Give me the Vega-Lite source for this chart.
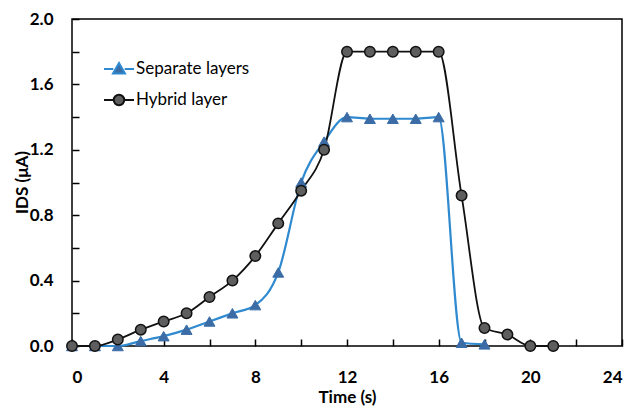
{
  "$schema": "https://vega.github.io/schema/vega-lite/v6.json",
  "width": 550,
  "height": 327,
  "autosize": "none",
  "padding": {"left": 72, "top": 19, "right": 11, "bottom": 65},
  "background": "white",
  "config": {
    "view": {"stroke": "black", "strokeWidth": 1.5},
    "font": "Lato",
    "axis": {"grid": false, "ticks": true, "domain": false, "offset": -7, "tickSize": 7, "tickColor": "black", "zindex": 1, "labelColor": "black", "titleColor": "black", "labelFont": "Lato", "titleFont": "Lato", "labelFontWeight": "bold", "titleFontWeight": "bold", "labelFontSize": 17, "titleFontSize": 17, "tickWidth": 1.5},
    "legend": {"orient": "none", "legendX": 31, "legendY": 34, "symbolSize": 900, "symbolStrokeWidth": 2, "labelFont": "Lato", "labelFontSize": 17, "labelColor": "black", "rowPadding": 6, "labelOffset": 1, "padding": 0, "symbolOpacity": 1}
  },
  "data": {
    "values": [
      {"t": 0, "v": 0, "s": "Separate layers"},
      {"t": 1, "v": 0, "s": "Separate layers"},
      {"t": 2, "v": 0, "s": "Separate layers"},
      {"t": 3, "v": 0.03, "s": "Separate layers"},
      {"t": 4, "v": 0.06, "s": "Separate layers"},
      {"t": 5, "v": 0.1, "s": "Separate layers"},
      {"t": 6, "v": 0.15, "s": "Separate layers"},
      {"t": 7, "v": 0.2, "s": "Separate layers"},
      {"t": 8, "v": 0.25, "s": "Separate layers"},
      {"t": 9, "v": 0.45, "s": "Separate layers"},
      {"t": 10, "v": 1.0, "s": "Separate layers"},
      {"t": 11, "v": 1.25, "s": "Separate layers"},
      {"t": 12, "v": 1.4, "s": "Separate layers"},
      {"t": 13, "v": 1.39, "s": "Separate layers"},
      {"t": 14, "v": 1.39, "s": "Separate layers"},
      {"t": 15, "v": 1.39, "s": "Separate layers"},
      {"t": 16, "v": 1.4, "s": "Separate layers"},
      {"t": 17, "v": 0.02, "s": "Separate layers"},
      {"t": 18, "v": 0.01, "s": "Separate layers"},
      {"t": 0, "v": 0, "s": "Hybrid layer"},
      {"t": 1, "v": 0, "s": "Hybrid layer"},
      {"t": 2, "v": 0.04, "s": "Hybrid layer"},
      {"t": 3, "v": 0.1, "s": "Hybrid layer"},
      {"t": 4, "v": 0.15, "s": "Hybrid layer"},
      {"t": 5, "v": 0.2, "s": "Hybrid layer"},
      {"t": 6, "v": 0.3, "s": "Hybrid layer"},
      {"t": 7, "v": 0.4, "s": "Hybrid layer"},
      {"t": 8, "v": 0.55, "s": "Hybrid layer"},
      {"t": 9, "v": 0.75, "s": "Hybrid layer"},
      {"t": 10, "v": 0.95, "s": "Hybrid layer"},
      {"t": 11, "v": 1.2, "s": "Hybrid layer"},
      {"t": 12, "v": 1.8, "s": "Hybrid layer"},
      {"t": 13, "v": 1.8, "s": "Hybrid layer"},
      {"t": 14, "v": 1.8, "s": "Hybrid layer"},
      {"t": 15, "v": 1.8, "s": "Hybrid layer"},
      {"t": 16, "v": 1.8, "s": "Hybrid layer"},
      {"t": 17, "v": 0.92, "s": "Hybrid layer"},
      {"t": 18, "v": 0.11, "s": "Hybrid layer"},
      {"t": 19, "v": 0.07, "s": "Hybrid layer"},
      {"t": 20, "v": 0, "s": "Hybrid layer"},
      {"t": 21, "v": 0, "s": "Hybrid layer"}
    ]
  },
  "encoding": {
    "x": {"field": "t", "type": "quantitative", "title": "Time (s)",
      "scale": {"domain": [0, 24], "nice": false, "zero": false},
      "axis": {"values": [0, 2, 4, 6, 8, 10, 12, 14, 16, 18, 20, 22, 24], "labelExpr": "datum.value % 4 === 0 ? datum.label : ''", "labelPadding": 23, "titleX": 275, "titleY": 50, "titleBaseline": "top", "labelBaseline": "top"}},
    "y": {"field": "v", "type": "quantitative", "title": "IDS (μA)",
      "scale": {"domain": [0, 2], "nice": false},
      "axis": {"values": [0, 0.2, 0.4, 0.6, 0.8, 1.0, 1.2, 1.4, 1.6, 1.8, 2.0], "labelExpr": "indexof(['0.0','0.4','0.8','1.2','1.6','2.0'], format(datum.value, '.1f')) >= 0 ? format(datum.value, '.1f') : ''", "labelPadding": 19, "titleX": -57, "titleY": 163, "titleAngle": -90, "titleAlign": "center", "titleBaseline": "middle"}}
  },
  "layer": [
    {
      "transform": [{"filter": "datum.s === 'Separate layers'"}],
      "mark": {"type": "line", "interpolate": "monotone", "color": "#2F8AD0", "strokeWidth": 2.2}
    },
    {
      "transform": [{"filter": "datum.s === 'Hybrid layer'"}],
      "mark": {"type": "line", "interpolate": "monotone", "color": "#111111", "strokeWidth": 1.8}
    },
    {
      "transform": [{"filter": "datum.s === 'Separate layers'"}],
      "mark": {"type": "point", "shape": "triangle-up", "filled": true, "fill": "#3B6CA6", "stroke": "#3B6CA6", "strokeWidth": 1, "opacity": 1, "size": 120}
    },
    {
      "transform": [{"filter": "datum.s === 'Hybrid layer'"}],
      "mark": {"type": "point", "shape": "circle", "filled": true, "fill": "#5E5E5E", "stroke": "#111111", "strokeWidth": 1.5, "opacity": 1, "size": 110}
    },
    {
      "mark": {"type": "point", "size": 0, "filled": true, "strokeWidth": 2},
      "encoding": {
        "shape": {"field": "s", "type": "nominal", "title": null,
          "scale": {"domain": ["Separate layers", "Hybrid layer"], "range": ["M-1,0H-0.38M0.38,0H1M0,-0.4L0.4,0.3L-0.4,0.3Z", "M-1,0H-0.35M0.35,0H1M0.35,0A0.35,0.35,0,1,1,-0.35,0A0.35,0.35,0,1,1,0.35,0Z"]}},
        "stroke": {"field": "s", "type": "nominal", "title": null,
          "scale": {"domain": ["Separate layers", "Hybrid layer"], "range": ["#2F8AD0", "#111111"]}},
        "fill": {"field": "s", "type": "nominal", "title": null,
          "scale": {"domain": ["Separate layers", "Hybrid layer"], "range": ["#3B6CA6", "#5E5E5E"]}}
      }
    }
  ]
}
